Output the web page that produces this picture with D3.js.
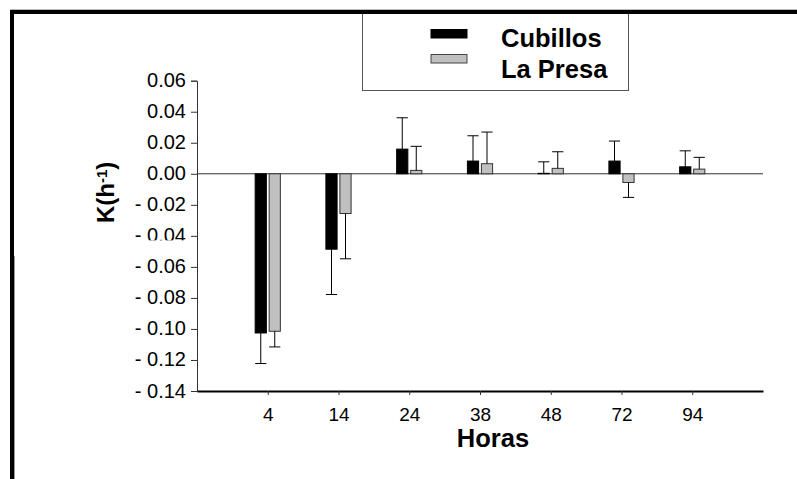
<!DOCTYPE html>
<html>
<head>
<meta charset="utf-8">
<script src="https://cdn.jsdelivr.net/npm/d3@7"></script>
<style>
    body { margin: 0; background: #fff; }
    text { font-family: "Liberation Sans", Arial, sans-serif; }
</style>
</head>
<body>
<div id="chart-container"></div>
<script>
const W = 797, H = 479;
const plot = { left: 197, right: 763, top: 80.7, bottom: 391 };

// data
const horas = ["4", "14", "24", "38", "48", "72", "94"];
const series = ["Cubillos", "La Presa"];
const cubillos = [-0.1026, -0.0486, 0.0159, 0.0082, 0.0003, 0.0082, 0.0045];
const cubillosErr = [0.0197, 0.0292, 0.0202, 0.0163, 0.0074, 0.0129, 0.0103];
const laPresa = [-0.1015, -0.0256, 0.0022, 0.0065, 0.0035, -0.0056, 0.0030];
const laPresaErr = [0.0101, 0.0292, 0.0155, 0.0204, 0.0107, 0.0096, 0.0076];
const yTicks = [0.06, 0.04, 0.02, 0, -0.02, -0.04, -0.06, -0.08, -0.10, -0.12, -0.14];

const colors = { "Cubillos": "#000", "La Presa": "#c0c0c0" };

const data = [];
horas.forEach((h, i) => {
    data.push({ hora: h, serie: "Cubillos", value: cubillos[i], err: cubillosErr[i] });
    data.push({ hora: h, serie: "La Presa", value: laPresa[i], err: laPresaErr[i] });
});

const svg = d3.select("#chart-container")
    .append("svg")
    .attr("width", W)
    .attr("height", H);

svg.append("rect").attr("width", W).attr("height", H).attr("fill", "#fff");

// outer frame (top + left only are visible)
svg.append("line")
    .attr("x1", 10).attr("x2", W).attr("y1", 9.5).attr("y2", 9.5)
    .attr("stroke", "#bbb").attr("stroke-width", 1);
svg.append("rect").attr("x", 10).attr("y", 10).attr("width", W - 10).attr("height", 4).attr("fill", "#000");
svg.append("rect").attr("x", 10).attr("y", 10).attr("width", 4).attr("height", H - 10).attr("fill", "#000");
svg.append("line")
    .attr("x1", 14.5).attr("x2", 14.5).attr("y1", 256).attr("y2", H)
    .attr("stroke", "#999").attr("stroke-width", 1);

// scales
const x = d3.scalePoint()
    .domain(horas)
    .range([plot.left, plot.right])
    .padding(1);

const x1 = d3.scaleBand()
    .domain(series)
    .range([-14, 14])
    .paddingInner(0.2)
    .paddingOuter(0.1);

const y = d3.scaleLinear()
    .domain([-0.14, 0.06])
    .range([plot.bottom, plot.top]);

// y axis
const yAxis = svg.append("g")
    .attr("transform", `translate(${plot.left},0)`)
    .call(d3.axisLeft(y)
        .tickValues(yTicks)
        .tickSize(6)
        .tickPadding(5)
        .tickFormat(d => d < 0 ? "- " + d3.format(".2f")(-d) : d3.format(".2f")(d)));
yAxis.select(".domain").attr("stroke", "#333");
yAxis.selectAll(".tick line").attr("stroke", "#333");
yAxis.selectAll(".tick text")
    .attr("font-size", 20)
    .attr("fill", "#000")
    .attr("dy", "0.3em");

// the "- 0.04" label is clipped at the bottom in the original
svg.append("rect")
    .attr("x", 120).attr("y", y(-0.04) + 4.5)
    .attr("width", 71).attr("height", 9)
    .attr("fill", "#fff");

// x axis
const xAxis = svg.append("g")
    .attr("transform", `translate(0,${plot.bottom})`)
    .call(d3.axisBottom(x).tickSize(4).tickPadding(13).tickSizeOuter(0));
xAxis.select(".domain").attr("stroke", "#000").attr("stroke-width", 2.2);
xAxis.selectAll(".tick line").attr("stroke", "#333");
xAxis.selectAll(".tick text")
    .attr("font-size", 19)
    .attr("fill", "#000");

// zero line
svg.append("line")
    .attr("x1", plot.left).attr("x2", plot.right)
    .attr("y1", y(0)).attr("y2", y(0))
    .attr("stroke", "#333").attr("stroke-width", 1);

// bars
svg.append("g")
    .selectAll("rect")
    .data(data)
    .join("rect")
    .attr("x", d => x(d.hora) + x1(d.serie))
    .attr("width", x1.bandwidth())
    .attr("y", d => y(Math.max(0, d.value)))
    .attr("height", d => Math.abs(y(d.value) - y(0)))
    .attr("fill", d => colors[d.serie])
    .attr("stroke", d => d.serie === "Cubillos" ? "#000" : "#333")
    .attr("stroke-width", 1);

// error bars, drawn away from zero
const errG = svg.append("g").attr("stroke", "#000").attr("stroke-width", 1);
const tipOf = d => d.value < 0 ? d.value - d.err : d.value + d.err;

errG.selectAll(".err")
    .data(data)
    .join("line")
    .attr("class", "err")
    .attr("x1", d => x(d.hora) + x1(d.serie) + x1.bandwidth() / 2)
    .attr("x2", d => x(d.hora) + x1(d.serie) + x1.bandwidth() / 2)
    .attr("y1", d => y(d.value))
    .attr("y2", d => y(tipOf(d)));

errG.selectAll(".cap")
    .data(data)
    .join("line")
    .attr("class", "cap")
    .attr("x1", d => x(d.hora) + x1(d.serie))
    .attr("x2", d => x(d.hora) + x1(d.serie) + x1.bandwidth())
    .attr("y1", d => y(tipOf(d)))
    .attr("y2", d => y(tipOf(d)));

// legend
svg.append("rect")
    .attr("x", 362.5).attr("y", 12)
    .attr("width", 266).attr("height", 78.5)
    .attr("fill", "#fff")
    .attr("stroke", "#555")
    .attr("stroke-width", 1);
svg.append("rect").attr("x", 10).attr("y", 10).attr("width", W - 10).attr("height", 4).attr("fill", "#000");

const legend = svg.append("g");
series.forEach((s, i) => {
    legend.append("rect")
        .attr("x", 431).attr("y", 29.5 + i * 25)
        .attr("width", 36).attr("height", 8.5)
        .attr("fill", colors[s])
        .attr("stroke", s === "Cubillos" ? "#000" : "#444")
        .attr("stroke-width", 1);
    legend.append("text")
        .attr("x", 501)
        .attr("y", 46.5 + i * 31.8)
        .attr("font-size", 25.5)
        .attr("font-weight", "bold")
        .attr("fill", "#000")
        .text(s);
});

// axis titles
svg.append("text")
    .attr("x", 493)
    .attr("y", 446.5)
    .attr("text-anchor", "middle")
    .attr("font-size", 25.5)
    .attr("font-weight", "bold")
    .text("Horas");

const yLabel = svg.append("text")
    .attr("transform", "translate(113.5,223) rotate(-90)")
    .attr("font-size", 24)
    .attr("font-weight", "bold");
yLabel.append("tspan").text("K(h");
yLabel.append("tspan").attr("font-size", 15).attr("dy", -7).text("-1");
yLabel.append("tspan").attr("dy", 7).text(")");
</script>
</body>
</html>
